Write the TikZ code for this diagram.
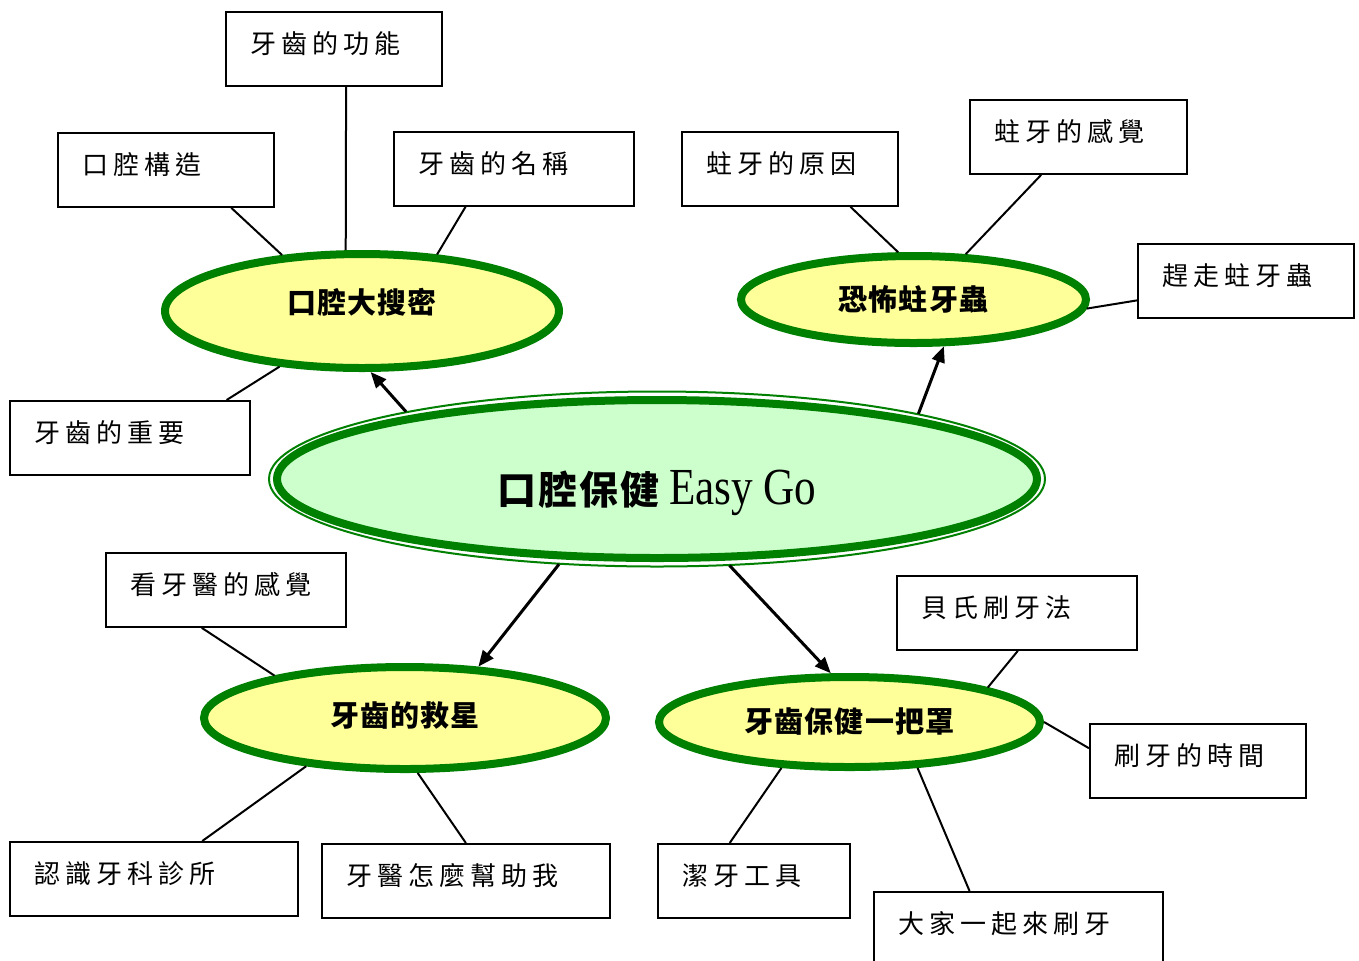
\documentclass[tikz,border=0pt]{standalone}
\usepackage{fontspec}
\setmainfont{Liberation Serif}
\newfontfamily\cjk{Noto Sans CJK TC}
\usetikzlibrary{shapes.geometric,calc,arrows.meta}
\definecolor{leafgreen}{RGB}{0,128,0}
\definecolor{topicyellow}{RGB}{255,255,153}
\definecolor{hubgreen}{RGB}{204,255,204}

\begin{document}
\begin{tikzpicture}[x=.5pt, y=-.5pt,
  box/.style={draw, line width=.9pt, anchor=north west, minimum height=37pt, inner xsep=12.5pt, align=left,
    text height=11.5pt, text depth=6.5pt,
    font=\cjk\fontsize{13}{15}\selectfont\addfontfeature{LetterSpace=19}},
  topic/.style={ellipse, draw=leafgreen, fill=topicyellow, line width=4pt, inner sep=0pt,
    font=\cjk\bfseries\fontsize{14.5}{16}\selectfont\addfontfeature{LetterSpace=4}},
  link/.style={line width=1pt},
  pointer/.style={line width=1.5pt, -{Triangle[length=8pt,width=6.5pt]}}]
\newcommand{\leaf}[5]{\pgfmathsetlengthmacro{\leafText}{#4*.5pt-25pt}%
  \node[box, minimum width=#4*.5pt, text width=\leafText] (#1) at (#2,#3) {#5};
}
\newcommand{\twig}[5]{\draw[link] ($(#1.#2)!#3!(#1.#4)$) -- (#5);
}
\useasboundingbox (0,0) rectangle (1359,960);
% hub
\node[ellipse, draw=leafgreen, fill=hubgreen, line width=4pt, inner sep=0pt, outer sep=4.5pt,
  minimum width=380pt, minimum height=79pt, text height=31pt, text depth=6pt,
  font=\fontsize{19.5}{22}\selectfont] (hub) at (657,479)
  {{\cjk\bfseries\addfontfeature{LetterSpace=5}口腔保健}\ {\fontsize{26}{28}\selectfont\scalebox{.83}[1]{Easy Go}}};
\draw[leafgreen, line width=1pt] (hub.center) ellipse [x radius=388, y radius=87.5];
% topics
\node[topic, minimum width=197pt, minimum height=57pt, text height=13pt, text depth=11pt] (mouth) at (362,311) {口腔大搜密};
\node[topic, minimum width=172.5pt, minimum height=43.5pt] (decay) at (913.5,299.5) {恐怖蛀牙蟲};
\node[topic, minimum width=201pt, minimum height=51pt, text height=13pt, text depth=5pt] (helper) at (405,718) {牙齒的救星};
\node[topic, minimum width=190.5pt, minimum height=45pt] (care) at (849.5,722) {牙齒保健一把罩};
% leaves
\leaf{function}{225}{11}{216}{牙齒的功能}
\leaf{structure}{57}{132}{216}{口腔構造}
\leaf{toothnames}{393}{131}{240}{牙齒的名稱}
\leaf{importance}{9}{400}{240}{牙齒的重要}
\leaf{cause}{681}{131}{216}{蛀牙的原因}
\leaf{feeling}{969}{99}{217}{蛀牙的感覺}
\leaf{expel}{1137}{243}{216}{趕走蛀牙蟲}
\leaf{visit}{105}{552}{240}{看牙醫的感覺}
\leaf{bass}{896}{575}{240}{貝氏刷牙法}
\leaf{timing}{1089}{723}{216}{刷牙的時間}
\leaf{clinic}{9}{841}{288}{認識牙科診所}
\leaf{dentist}{321}{843}{288}{牙醫怎麼幫助我}
\leaf{tools}{657}{843}{192}{潔牙工具}
\leaf{together}{873}{891}{289}{大家一起來刷牙}
% twigs
\twig{structure}{south west}{.8}{south east}{mouth.145.6}
\twig{function}{south west}{.556}{south east}{mouth.105.6}
\twig{toothnames}{south west}{.3}{south east}{mouth.37.2}
\twig{importance}{north west}{.9}{north east}{mouth.214}
\twig{cause}{south west}{.778}{south east}{decay.108.4}
\twig{feeling}{south west}{.33}{south east}{decay.41.2}
\twig{expel}{north west}{.757}{south west}{decay.-3.8}
\twig{visit}{south west}{.4}{south east}{helper.162}
\twig{clinic}{north west}{.667}{north east}{helper.206}
\twig{dentist}{north west}{.5}{north east}{helper.-77.2}
\twig{tools}{north west}{.375}{north east}{care.214}
\twig{together}{north west}{.332}{north east}{care.-34.4}
\twig{bass}{south west}{.504}{south east}{care.14.7}
\twig{timing}{north west}{.333}{south west}{care.-0.9}
% pointers
\foreach \from/\to in {165/mouth.-82, 14.8/decay.-57, 221.5/helper.35.3, 310.5/care.111}
  \draw[pointer] (hub.\from) -- (\to);
\end{tikzpicture}
\end{document}
